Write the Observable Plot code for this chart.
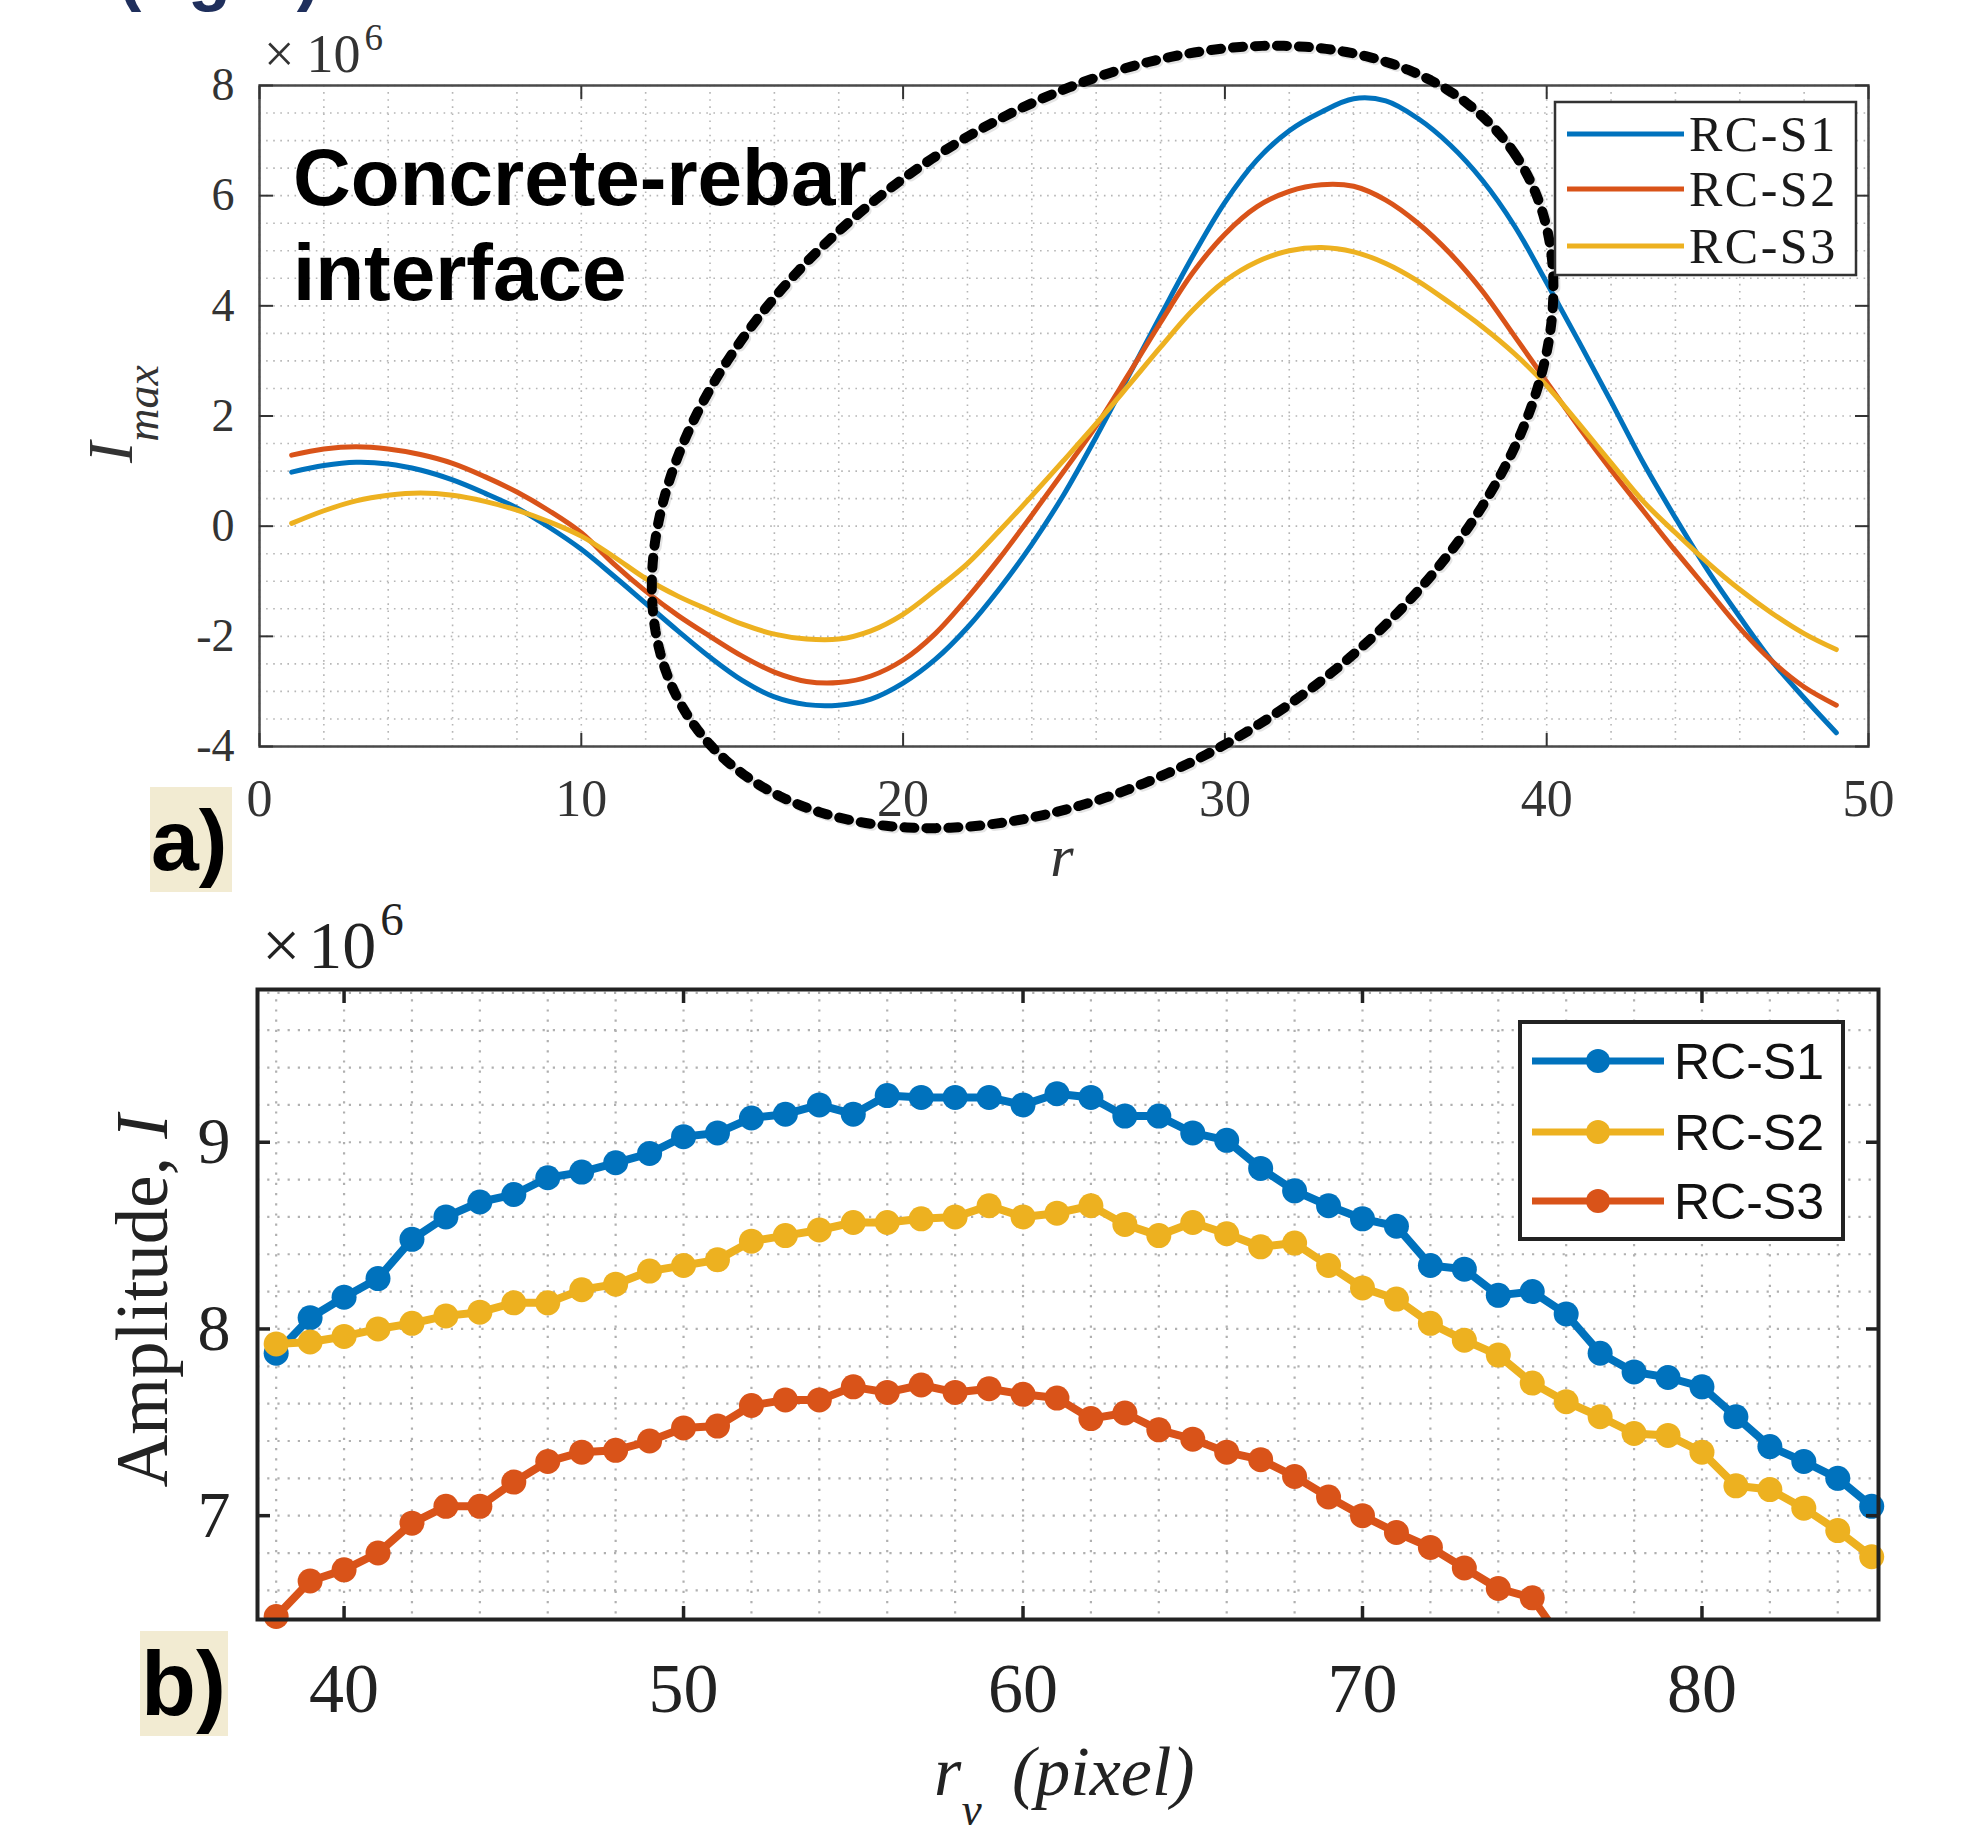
<!DOCTYPE html>
<html>
<head>
<meta charset="utf-8">
<script src="https://cdn.jsdelivr.net/npm/d3@7"></script>
<script src="https://cdn.jsdelivr.net/npm/@observablehq/plot@0.6"></script>
<style>
  html, body { margin: 0; padding: 0; background: #fff; overflow: hidden; }
  #wrap { position: relative; width: 1963px; height: 1825px; overflow: hidden; background: #fff; }
  #top, #bot { position: absolute; left: 0; }
  #top { top: 0; }
  #bot { top: 900px; }
  #ov { position: absolute; left: 0; top: 0; z-index: 5; }
</style>
</head>
<body>
<div id="wrap">
  <div id="top"></div>
  <div id="bot"></div>
  <svg id="ov" width="1963" height="1825" xmlns="http://www.w3.org/2000/svg"></svg>
</div>
<script>
// ---------------- Panel a) : I_max vs r (values in units of 1e6) ----------------
const topSeries = ["RC-S1", "RC-S2", "RC-S3"];
const topColors = ["#0072BD", "#D95319", "#EDB120"];
const rTop = d3.range(1, 50); // r = 1 … 49
const s1Top = [0.98, 1.10, 1.16, 1.13, 1.02, 0.84, 0.60, 0.33, -0.02, -0.42,
  -0.90, -1.40, -1.90, -2.38, -2.80, -3.10, -3.24, -3.25, -3.14, -2.85,
  -2.42, -1.84, -1.13, -0.33, 0.58, 1.62, 2.72, 3.82, 4.90, 5.88,
  6.65, 7.18, 7.52, 7.76, 7.72, 7.40, 6.92, 6.28, 5.45, 4.42,
  3.35, 2.26, 1.15, 0.15, -0.80, -1.65, -2.45, -3.12, -3.75];
const s2Top = [1.29, 1.40, 1.44, 1.40, 1.30, 1.14, 0.90, 0.62, 0.28, -0.12,
  -0.68, -1.18, -1.62, -2.00, -2.36, -2.65, -2.82, -2.84, -2.72, -2.43,
  -1.95, -1.30, -0.58, 0.20, 1.00, 1.82, 2.75, 3.70, 4.60, 5.30,
  5.80, 6.08, 6.20, 6.17, 5.92, 5.50, 4.95, 4.27, 3.45, 2.62,
  1.80, 1.02, 0.28, -0.45, -1.15, -1.85, -2.45, -2.92, -3.25];
const s3Top = [0.05, 0.28, 0.46, 0.56, 0.60, 0.56, 0.45, 0.29, 0.08, -0.18,
  -0.55, -0.95, -1.27, -1.53, -1.78, -1.96, -2.05, -2.05, -1.90, -1.60,
  -1.16, -0.68, -0.08, 0.55, 1.20, 1.86, 2.55, 3.25, 3.92, 4.45,
  4.80, 5.00, 5.06, 4.98, 4.77, 4.45, 4.05, 3.62, 3.13, 2.55,
  1.86, 1.15, 0.45, -0.12, -0.66, -1.15, -1.58, -1.95, -2.24];
const topXTicks = [0, 10, 20, 30, 40, 50];
const topYTicks = [-4, -2, 0, 2, 4, 6, 8];
// dotted ellipse annotation (data units): centre and two conjugate semi-axes
const ellipseA = [{cx: 26.2, cy: 1.62, ux: 12.77, uy: 5.17, vx: 5.76, vy: -4.87}];

// ---------------- Panel b) : Amplitude I vs r_y (values in units of 1e6) ----------------
const botSeries = ["RC-S1", "RC-S2", "RC-S3"];
const botColors = ["#0072BD", "#EDB120", "#D95319"];
const rBot = d3.range(38, 86);   // 38 … 85
const b1 = [7.87, 8.06, 8.17, 8.27, 8.48, 8.60, 8.68, 8.72, 8.81, 8.84, 8.89, 8.94,
  9.03, 9.05, 9.13, 9.15, 9.20, 9.15, 9.25, 9.24, 9.24, 9.24,
  9.20, 9.26, 9.24, 9.14, 9.14, 9.05, 9.01, 8.86, 8.74, 8.66,
  8.59, 8.55, 8.34, 8.32, 8.18, 8.20, 8.08, 7.87, 7.77, 7.74,
  7.69, 7.53, 7.37, 7.29, 7.20, 7.05];
const b2 = [7.92, 7.93, 7.96, 8.00, 8.03, 8.07, 8.09, 8.14, 8.14, 8.21, 8.24, 8.31,
  8.34, 8.37, 8.47, 8.50, 8.53, 8.57, 8.57, 8.59, 8.60, 8.66,
  8.60, 8.62, 8.66, 8.56, 8.50, 8.57, 8.51, 8.44, 8.46, 8.34,
  8.22, 8.16, 8.03, 7.94, 7.86, 7.71, 7.61, 7.53, 7.44, 7.43,
  7.34, 7.16, 7.14, 7.04, 6.92, 6.78];
const rBot3 = d3.range(38, 77); // 38 … 76
const b3 = [6.46, 6.65, 6.71, 6.80, 6.96, 7.05, 7.05, 7.18, 7.29, 7.34,
  7.35, 7.40, 7.47, 7.48, 7.59, 7.62, 7.62, 7.69, 7.66, 7.70,
  7.66, 7.68, 7.65, 7.63, 7.52, 7.55, 7.46, 7.41, 7.34, 7.30,
  7.21, 7.10, 7.00, 6.91, 6.83, 6.72, 6.61, 6.56, 6.30];
const botXTicks = [40, 50, 60, 70, 80];
const botYTicks = [7, 8, 9];

// ---------------- build tables ----------------
const topData = [];
[s1Top, s2Top, s3Top].forEach((arr, k) => arr.forEach((v, i) => topData.push({r: rTop[i], v, series: topSeries[k]})));
const botData = [];
[[rBot, b1], [rBot, b2], [rBot3, b3]].forEach(([rs, arr], k) => arr.forEach((v, i) => botData.push({r: rs[i], v, series: botSeries[k]})));

const e = ellipseA[0];
const ellPts = d3.range(0, 361, 1).map(deg => {
  const t = deg * Math.PI / 180;
  return {ex: e.cx + e.ux * Math.cos(t) + e.vx * Math.sin(t), ey: e.cy + e.uy * Math.cos(t) + e.vy * Math.sin(t)};
});

const serif = "'Liberation Serif', 'Times New Roman', serif";
const sans = "'Liberation Sans', Arial, sans-serif";

// ---------------- panel a ----------------
const topDomY = [-4, 8];
const topPlot = Plot.plot({
  width: 1963, height: 900,
  marginLeft: 259, marginRight: 95, marginTop: 85, marginBottom: 154,
  style: {background: "transparent", fontFamily: serif, color: "#333"},
  x: {domain: [0, 50], label: null},
  y: {domain: topDomY, label: null},
  color: {domain: topSeries, range: topColors},
  marks: [
    Plot.gridX(d3.range(0, 51, 2), {stroke: "#b5b5b5", strokeOpacity: 1, strokeWidth: 1.6, strokeDasharray: "1.6,5.5"}),
    Plot.gridY(d3.range(-4, 8.01, 0.5), {stroke: "#b5b5b5", strokeOpacity: 1, strokeWidth: 1.6, strokeDasharray: "1.6,5.5"}),
    Plot.line(topData, {x: "r", y: "v", z: "series", stroke: "series", strokeWidth: 5, curve: "catmull-rom"}),
    Plot.frame({stroke: "#4a4a4a", strokeWidth: 2.5}),
    Plot.axisX(topXTicks, {anchor: "bottom", tickSize: -13, tickPadding: 46, fontSize: 52, color: "#333", strokeWidth: 2, tickFormat: d => String(d), label: null}),
    Plot.axisX(topXTicks, {anchor: "top", tickSize: -13, tickFormat: () => "", color: "#333", strokeWidth: 2, label: null}),
    Plot.axisY(topYTicks, {anchor: "left", tickSize: -14, tickPadding: 39, fontSize: 46, color: "#333", strokeWidth: 2, tickFormat: d => String(d), label: null}),
    Plot.axisY(topYTicks, {anchor: "right", tickSize: -14, tickFormat: () => "", color: "#333", strokeWidth: 2, label: null}),
    // dotted ellipse with a faint offset shadow
    Plot.line(ellPts, {x: "ex", y: "ey", stroke: "#999", strokeOpacity: 0.25, strokeWidth: 10, strokeDasharray: "10,12", dx: 2, dy: 2}),
    Plot.line(ellPts, {x: "ex", y: "ey", stroke: "#000", strokeWidth: 10, strokeDasharray: "10,12"})
  ]
});
document.getElementById("top").appendChild(topPlot);

// ---------------- panel b ----------------
const botDomX = [37.45, 85.2];
const botDomY = [6.444, 9.818];
const botPlot = Plot.plot({
  width: 1963, height: 925,
  marginLeft: 257, marginRight: 85, marginTop: 89, marginBottom: 206,
  style: {background: "transparent", fontFamily: serif, color: "#222"},
  x: {domain: botDomX, label: null},
  y: {domain: botDomY, label: null},
  color: {domain: botSeries, range: botColors},
  marks: [
    Plot.gridX(d3.range(38, 85, 2), {stroke: "#b0b0b0", strokeOpacity: 1, strokeWidth: 2.2, strokeDasharray: "2.2,8"}),
    Plot.gridY(d3.range(6.6, 9.81, 0.2), {stroke: "#b0b0b0", strokeOpacity: 1, strokeWidth: 2.2, strokeDasharray: "2.2,8"}),
    Plot.line(botData, {x: "r", y: "v", z: "series", stroke: "series", strokeWidth: 8, clip: true}),
    Plot.dot(botData.filter(d => d.v >= botDomY[0] && d.v <= botDomY[1]), {x: "r", y: "v", fill: "series", r: 12.5}),
    Plot.frame({stroke: "#222", strokeWidth: 4}),
    Plot.axisX(botXTicks, {anchor: "bottom", tickSize: -13, tickPadding: 56, fontSize: 70, color: "#222", strokeWidth: 3.5, tickFormat: d => String(d), label: null}),
    Plot.axisX(botXTicks, {anchor: "top", tickSize: -13, tickFormat: () => "", color: "#222", strokeWidth: 3.5, label: null}),
    Plot.axisY(botYTicks, {anchor: "left", tickSize: -13, tickPadding: 40, fontSize: 66, color: "#222", strokeWidth: 3.5, tickFormat: d => String(d), label: null}),
    Plot.axisY(botYTicks, {anchor: "right", tickSize: -13, tickFormat: () => "", color: "#222", strokeWidth: 3.5, label: null})
  ]
});
document.getElementById("bot").appendChild(botPlot);

// ---------------- overlay: labels, legends, panel tags ----------------
const ov = d3.select("#ov");

// cut-off heading at the very top
ov.append("text").attr("x", 118).attr("y", -3).attr("font-family", sans).attr("font-weight", "bold")
  .attr("font-size", 70).attr("fill", "#1F2F5C").text("(right)");

// ×10^6 multipliers
function mult(x, y, fs, fsSup, gap, rise, fill) {
  const t = ov.append("text").attr("x", x).attr("y", y).attr("font-family", serif).attr("font-size", fs).attr("fill", fill);
  t.append("tspan").text("×");
  t.append("tspan").attr("dx", gap).text("10");
  t.append("tspan").attr("dx", 4).attr("dy", -rise).attr("font-size", fsSup).text("6");
}
mult(264, 72, 54, 37, 12, 22, "#333");
mult(262, 968, 68, 47, 8, 33, "#222");

// panel a axis labels
const yl = ov.append("text").attr("transform", "translate(132,463) rotate(-90)")
  .attr("font-family", serif).attr("font-style", "italic").attr("font-size", 64).attr("fill", "#333");
yl.append("tspan").text("I");
yl.append("tspan").attr("dy", 26).attr("font-size", 46).text("max");
ov.append("text").attr("x", 1062).attr("y", 876).attr("text-anchor", "middle").attr("font-family", serif)
  .attr("font-style", "italic").attr("font-size", 60).attr("fill", "#333").text("r");

// panel b axis labels
const yl2 = ov.append("text").attr("transform", "translate(167,1301) rotate(-90)").attr("text-anchor", "middle")
  .attr("font-family", serif).attr("font-size", 73).attr("fill", "#222");
yl2.append("tspan").text("Amplitude, ");
yl2.append("tspan").attr("font-style", "italic").text("I");
const xl2 = ov.append("text").attr("x", 934).attr("y", 1795).attr("font-family", serif)
  .attr("font-style", "italic").attr("font-size", 70).attr("fill", "#222");
xl2.append("tspan").text("r");
xl2.append("tspan").attr("dy", 30).attr("font-size", 46).text("y");
xl2.append("tspan").attr("x", 1012).attr("dy", -30).text("(pixel)");

// annotation text in panel a
const ann = ov.append("text").attr("font-family", sans).attr("font-weight", "bold").attr("font-size", 80).attr("fill", "#000");
ann.append("tspan").attr("x", 293).attr("y", 205).text("Concrete-rebar");
ann.append("tspan").attr("x", 293).attr("y", 300).text("interface");

// panel tags
ov.append("rect").attr("x", 150).attr("y", 787).attr("width", 82).attr("height", 105).attr("fill", "#F2EBD2");
ov.append("text").attr("x", 151).attr("y", 870).attr("font-family", sans).attr("font-weight", "bold").attr("font-size", 86).attr("fill", "#000").text("a)");
ov.append("rect").attr("x", 140).attr("y", 1631).attr("width", 88).attr("height", 105).attr("fill", "#F2EBD2");
ov.append("text").attr("x", 141).attr("y", 1715).attr("font-family", sans).attr("font-weight", "bold").attr("font-size", 90).attr("fill", "#000").text("b)");

// legend panel a
ov.append("rect").attr("x", 1555).attr("y", 102).attr("width", 301).attr("height", 173)
  .attr("fill", "#fff").attr("stroke", "#333").attr("stroke-width", 2.5);
const legRowsA = [134, 189, 246];
topSeries.forEach((s, i) => {
  ov.append("line").attr("x1", 1567).attr("x2", 1684).attr("y1", legRowsA[i]).attr("y2", legRowsA[i])
    .attr("stroke", topColors[i]).attr("stroke-width", 5);
  ov.append("text").attr("x", 1689).attr("y", legRowsA[i] + 17).attr("font-family", serif).attr("font-size", 50)
    .attr("letter-spacing", 2.5).attr("fill", "#1a1a1a").text(s);
});

// legend panel b
ov.append("rect").attr("x", 1520).attr("y", 1022).attr("width", 323).attr("height", 217)
  .attr("fill", "#fff").attr("stroke", "#222").attr("stroke-width", 4);
const legRowsB = [1061, 1132, 1201];
botSeries.forEach((s, i) => {
  ov.append("line").attr("x1", 1532).attr("x2", 1664).attr("y1", legRowsB[i]).attr("y2", legRowsB[i])
    .attr("stroke", botColors[i]).attr("stroke-width", 7);
  ov.append("circle").attr("cx", 1598).attr("cy", legRowsB[i]).attr("r", 12).attr("fill", botColors[i]);
  ov.append("text").attr("x", 1674).attr("y", legRowsB[i] + 18).attr("font-family", sans).attr("font-size", 50)
    .attr("fill", "#111").text(s);
});
</script>
</body>
</html>
